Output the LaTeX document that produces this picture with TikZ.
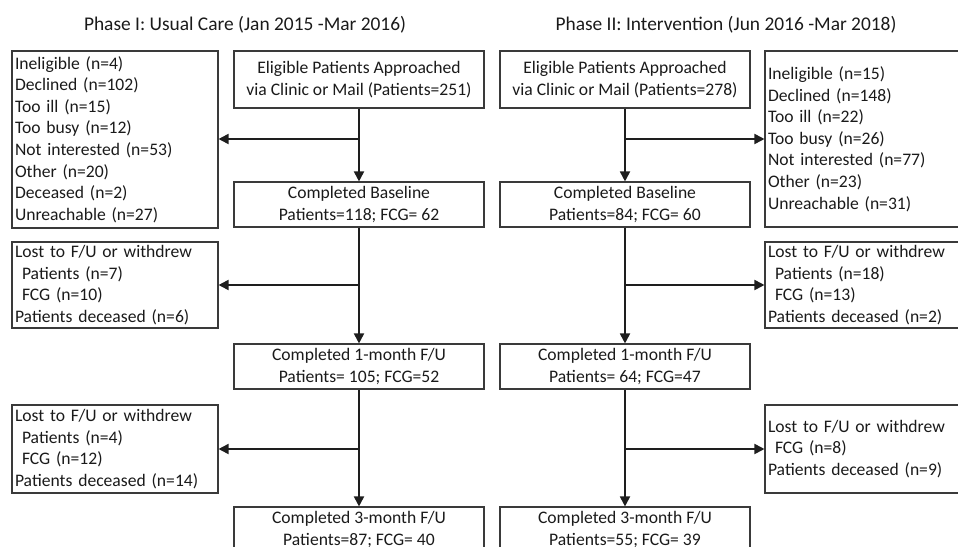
\documentclass[tikz,border=0pt]{standalone}
\usepackage{fontspec}
\setmainfont{Carlito}
\usetikzlibrary{arrows.meta}
\definecolor{boxline}{HTML}{3A3A3A}
\definecolor{arrline}{HTML}{1E1E1E}
\definecolor{txt}{HTML}{1A1A1A}
\tikzset{
  box/.style={draw=boxline, line width=1.1pt, inner sep=3pt, text=txt,
    font=\fontsize{17.6}{21.6}\selectfont},
  sidebox/.style={box, minimum width=206pt, text width=200pt, align=left},
  rsidebox/.style={box, minimum width=240pt, text width=234pt, align=left},
  mainbox/.style={box, minimum width=250pt, minimum height=57pt, align=center},
  stagebox/.style={box, minimum width=250pt, minimum height=45pt, align=center, inner sep=1pt},
  arr/.style={draw=arrline, line width=1.8pt, -{Triangle[length=10pt,width=10pt]}},
  ttl/.style={text=txt, font=\fontsize{19.4}{23}\selectfont}
}
\newcommand{\ind}{\hspace*{7pt}}
\begin{document}
\begin{tikzpicture}[x=1pt,y=-1pt]
\useasboundingbox (0,0) rectangle (958,546);
\clip (0,0) rectangle (958,546);
% titles
\node[ttl] (t1) at (245,25) {Phase I: Usual Care (Jan 2015 -Mar 2016)};
\node[ttl] (t2) at (726,25) {Phase II: Intervention (Jun 2016 -Mar 2018)};
% left column center boxes
\node[mainbox] (le) at (359,79.5) {Eligible Patients Approached\\via Clinic or Mail (Patients=251)};
\node[stagebox] (lb) at (359,204.5) {Completed Baseline\\Patients=118; FCG= 62};
\node[stagebox] (l1) at (359,366.5) {Completed 1-month F/U\\Patients= 105; FCG=52};
\node[stagebox] (l3) at (359,529.5) {Completed 3-month F/U\\Patients=87; FCG= 40};
% right column center boxes
\node[mainbox] (re) at (625,79.5) {Eligible Patients Approached\\via Clinic or Mail (Patients=278)};
\node[stagebox] (rb) at (625,204.5) {Completed Baseline\\Patients=84; FCG= 60};
\node[stagebox] (r1) at (625,366.5) {Completed 1-month F/U\\Patients= 64; FCG=47};
\node[stagebox] (r3) at (625,529.5) {Completed 3-month F/U\\Patients=55; FCG= 39};
% left side boxes
\node[sidebox, minimum height=177pt] (lx1) at (115,139.5) {Ineligible (n=4)\\Declined (n=102)\\Too ill (n=15)\\Too busy (n=12)\\Not interested (n=53)\\Other (n=20)\\Deceased (n=2)\\Unreachable (n=27)};
\node[sidebox, minimum height=86pt] (lx2) at (115,285) {Lost to F/U or withdrew\\\ind Patients (n=7)\\\ind FCG (n=10)\\Patients deceased (n=6)};
\node[sidebox, minimum height=88pt] (lx3) at (115,449) {Lost to F/U or withdrew\\\ind Patients (n=4)\\\ind FCG (n=12)\\Patients deceased (n=14)};
% right side boxes
\node[rsidebox, minimum height=176pt] (rx1) at (885,139) {Ineligible (n=15)\\Declined (n=148)\\Too ill (n=22)\\Too busy (n=26)\\Not interested (n=77)\\Other (n=23)\\Unreachable (n=31)};
\node[rsidebox, minimum height=86pt] (rx2) at (885,285) {Lost to F/U or withdrew\\\ind Patients (n=18)\\\ind FCG (n=13)\\Patients deceased (n=2)};
\node[rsidebox, minimum height=88pt] (rx3) at (885,449) {Lost to F/U or withdrew\\\ind FCG (n=8)\\Patients deceased (n=9)};
% branch points
\coordinate (lj1) at (359,139);
\coordinate (lj2) at (359,285);
\coordinate (lj3) at (359,449);
\coordinate (rj1) at (625,139);
\coordinate (rj2) at (625,285);
\coordinate (rj3) at (625,449);
% left connectors
\draw[arr] (le.south) -- (lb.north);
\draw[arr] (lb.south) -- (l1.north);
\draw[arr] (l1.south) -- (l3.north);
\draw[arr] (lj1) -- (lj1 -| lx1.east);
\draw[arr] (lj2) -- (lj2 -| lx2.east);
\draw[arr] (lj3) -- (lj3 -| lx3.east);
% right connectors
\draw[arr] (re.south) -- (rb.north);
\draw[arr] (rb.south) -- (r1.north);
\draw[arr] (r1.south) -- (r3.north);
\draw[arr] (rj1) -- (rj1 -| rx1.west);
\draw[arr] (rj2) -- (rj2 -| rx2.west);
\draw[arr] (rj3) -- (rj3 -| rx3.west);
\end{tikzpicture}
\end{document}
